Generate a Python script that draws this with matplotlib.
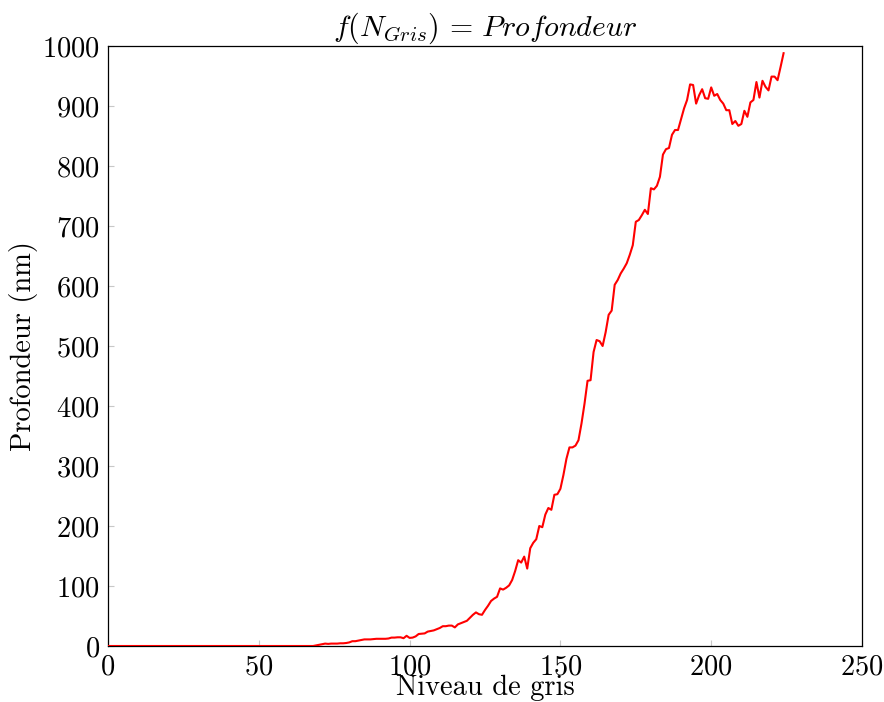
import numpy as np
import matplotlib
matplotlib.use("Agg")
import matplotlib.pyplot as plt

plt.rcParams["font.family"] = "serif"
plt.rcParams["font.serif"] = ["cmr10"]
plt.rcParams["mathtext.fontset"] = "cm"
plt.rcParams["axes.formatter.use_mathtext"] = True

# grey level 0..224, depth in nm
niveau = np.arange(0, 225)
profondeur = np.array(
    [0.0] * 69
    + [1, 2, 3, 4, 3.5, 4, 4, 4, 4.5, 4.5, 5,                # 69-79
       6, 8, 8, 9, 10, 11, 11, 11, 11.5, 12,                # 80-89
       12, 12, 12, 12.5, 14, 14, 14.5, 14.5, 13, 17,        # 90-99
       13.5, 14, 16, 20, 20.5, 21, 24, 25, 26, 28,          # 100-109
       30, 33, 33, 34, 34, 31, 36, 38, 40, 42,              # 110-119
       47, 52, 56, 53, 52, 60, 67, 75, 79, 82,              # 120-129
       96, 94, 97, 101, 110, 125, 143, 139, 149, 129,       # 130-139
       163, 172, 178, 200, 198, 219, 230, 227, 252, 253,    # 140-149
       262, 285, 312, 331, 331, 334, 343, 371, 404, 442,    # 150-159
       443, 490, 510, 508, 500, 523, 552, 559, 602, 610,    # 160-169
       621, 629, 638, 652, 668, 707, 710, 718, 727, 720,    # 170-179
       763, 761, 767, 782, 819, 828, 830, 852, 860, 860,    # 180-189
       878, 896, 910, 936, 935, 904, 918, 928, 913, 912,    # 190-199
       931, 917, 920, 910, 904, 893, 893, 870, 875, 867,    # 200-209
       870, 892, 882, 906, 910, 940, 914, 942, 932, 926,    # 210-219
       949, 949, 943, 965, 988]                             # 220-224
)

xticks = [0, 50, 100, 150, 200, 250]
yticks = [0, 100, 200, 300, 400, 500, 600, 700, 800, 900, 1000]

fig = plt.figure(figsize=(8.84, 7.02), dpi=100)
ax = fig.add_axes([108 / 884, 56 / 702, 754 / 884, 600 / 702])

ax.plot(niveau, profondeur, color="red", linewidth=1.5, zorder=3)

ax.set_xlim(0, 250)
ax.set_ylim(0, 1000)
ax.set_xticks(xticks)
ax.set_yticks(yticks)

for s in ax.spines.values():
    s.set_linewidth(0.9)
    s.set_color("black")

ax.tick_params(direction="in", length=4.5, width=0.8, color="#c8c8c8",
               labelsize=20.5, pad=6, top=False, right=False)

ax.set_title(r"$f(N_{Gris})\,=\,Profondeur$", fontsize=21.5, pad=4)
ax.set_xlabel("Niveau de gris", fontsize=20.5, labelpad=-4)
ax.set_ylabel("Profondeur (nm)", fontsize=20.5, labelpad=3)

fig.savefig("out.png", dpi=100)
